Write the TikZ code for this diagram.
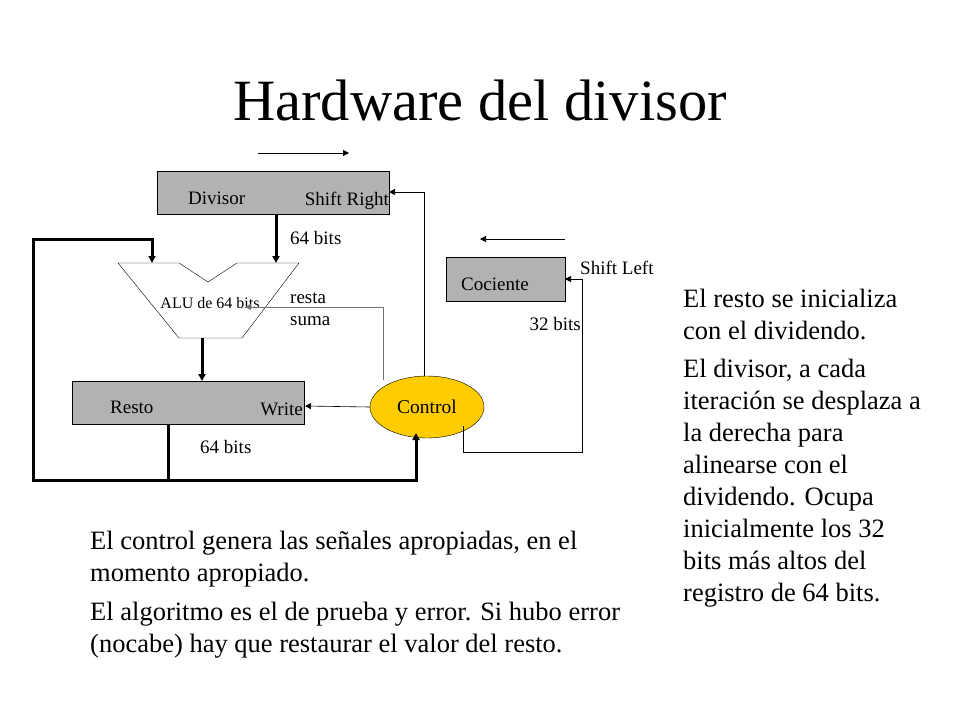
\documentclass[tikz,border=0pt]{standalone}
\usepackage{fontspec}
\setmainfont{Liberation Serif}
\usetikzlibrary{arrows.meta, positioning, shapes.geometric}
\definecolor{reggray}{HTML}{B2B2B2}
\definecolor{ctrlyellow}{HTML}{FFCC00}
\begin{document}
\begin{tikzpicture}[
    x=1pt, y=-1pt,
    reg/.style={
      rectangle,
      draw=black,
      fill=reggray,
      inner sep=0pt
    },
    lbl/.style={
      font=\fontsize{19}{21}\selectfont,
      inner sep=0pt
    },
    txt/.style={
      font=\fontsize{26.5}{32}\selectfont,
      align=left,
      anchor=north west,
      inner sep=0pt
    },
    bus/.style={
      -{Triangle[length=7pt,width=7pt]},
      line width=3pt
    },
    sig/.style={
      -{Triangle[length=6pt,width=6pt]},
      semithick
    }
  ]
  \useasboundingbox (0,0) rectangle (960,720);

  % Título
  \node[font=\fontsize{58.5}{64}\selectfont] (title) at (480,100) {Hardware del divisor};

  % Registros
  \node[reg, minimum width=232pt, minimum height=43pt] (divisor) at (273,192.5) {};
  \node[lbl, anchor=west] (divlbl) at (188,198) {Divisor};
  \node[lbl, anchor=east] (shr) at (389,201) {Shift Right};
  \node[reg, minimum width=232pt, minimum height=43pt] (resto) at (188,402.5) {};
  \node[lbl, anchor=west] (restolbl) at (110,407) {Resto};
  \node[lbl, anchor=east] (write) at (303,409) {Write};
  \node[reg, minimum width=119pt, minimum height=44pt] (cociente) at (505.5,279) {};
  \node[lbl, anchor=west] (coclbl) at (461,284) {Cociente};
  \node[lbl, anchor=west] (shl) at (580,268) {Shift Left};

  % ALU
  \draw[thin, fill=white] (118,263) -- (179,263) -- (208,282) -- (237,263) -- (299,263)
    -- (242,338) -- (179,338) -- cycle;
  \node[font=\fontsize{16}{18}\selectfont, inner sep=0pt] (alu) at (210,303) {ALU de 64 bits};
  \coordinate (aluR) at (245,307);
  \coordinate (aluL) at (152,263);
  \coordinate (aluD) at (276,263);
  \coordinate (aluB) at (202,338);

  % Control
  \node[ellipse, draw=black, fill=ctrlyellow, minimum width=114pt, minimum height=62pt,
    inner sep=0pt, font=\fontsize{19.5}{21}\selectfont] (control) at (427,407) {Control};

  % Buses
  \draw[bus] (276,214) -- (aluD);
  \node[lbl, anchor=west] (b64a) at (290,238) {64 bits};
  \draw[bus] (aluB) -- (202,381);
  \draw[bus] (168,424) -- (168,480) -- (33,480) -- (33,239) -- (152,239) -- (aluL);
  \draw[bus] (168,480) -- (416,480) -- (416,433);
  \node[lbl, anchor=west] (b64b) at (200,447) {64 bits};

  % Señales
  \draw[sig, draw=black!55] (383,380) -- (383,307) -- (aluR);
  \node[lbl, anchor=west] (resta) at (290,298) {resta};
  \node[lbl, anchor=west] (suma) at (290,321) {suma};
  \draw[sig] (control.west) -- (305,406);
  \draw[sig] (424,376) -- (424,192) -- (389,192);
  \draw[sig] (463,426) -- (463,452) -- (582,452) -- (582,279) -- (565,279);
  \node[lbl, anchor=east] (b32) at (581,324) {32 bits};

  % Flechas de desplazamiento
  \draw[sig] (258,153) -- (349,153);
  \draw[sig] (565,239) -- (480,239);

  % Textos
  \node[txt] (txtR) at (683,289) {El resto se inicializa\\con el dividendo.};
  \node[txt] (txtR2) at (683,359) {El divisor, a cada\\iteración se desplaza a\\la derecha para\\alinearse con el\\dividendo. Ocupa\\inicialmente los 32\\bits más altos del\\registro de 64 bits.};
  \node[txt] (txtB) at (90,531) {El control genera las señales apropiadas, en el\\momento apropiado.};
  \node[txt] (txtB2) at (90,602) {El algoritmo es el de prueba y error. Si hubo error\\(nocabe) hay que restaurar el valor del resto.};
\end{tikzpicture}
\end{document}
